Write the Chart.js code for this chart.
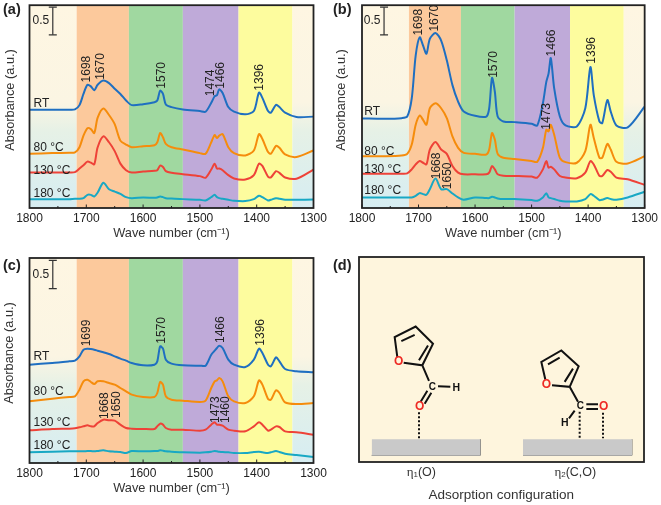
<!DOCTYPE html>
<html>
<head>
<meta charset="utf-8">
<style>
  html, body { margin: 0; padding: 0; background: #fff; }
  canvas { position: absolute; }
</style>
<script src="https://cdn.jsdelivr.net/npm/chart.js@4/dist/chart.umd.min.js"></script>
</head>
<body>
<canvas id="panelA" width="330" height="250" style="left:0;top:0"></canvas>
<canvas id="panelB" width="331" height="250" style="left:330px;top:0"></canvas>
<canvas id="panelC" width="330" height="255" style="left:0;top:250px"></canvas>
<canvas id="panelD" width="331" height="255" style="left:330px;top:250px"></canvas>
<script>
'use strict';

// wave numbers shared by every spectrum
const waves = [1800,1760,1730,1720,1712,1705,1698,1692,1686,1680,1670,1660,1650,1640,1630,1620,1600,1580,1575,1570,1565,1560,1550,1530,1500,1490,1480,1474,1470,1466,1460,1450,1440,1420,1405,1396,1390,1380,1375,1366,1360,1350,1330,1300];
const xTicks = [1800,1700,1600,1500,1400,1300];

// shaded regions
const bandEdges = [1800,1717,1625,1530,1432,1337,1300];
const bandColors = [null,'#fcc99c','#a0d8a0','#bfaad9','#fdfc9e',null];

const seriesNames = ['RT','80 °C','130 °C','180 °C'];
const seriesColors = ['#1f6fc1','#f58c0c','#ee4238','#18a8c4'];

// absorbance readings, 168 units = 1 a.u.
const aRT = [299,299,299,300,313,347,375,370,358,375,388,380,363,347,327,313,316,322,327,357,347,315,307,300,295,293,320,340,343,361,350,307,293,285,295,351,335,295,290,314,307,290,277,278];
const a80 = [165,167,168,169,185,220,243,240,228,275,303,283,255,205,193,185,188,191,200,228,215,195,185,178,167,165,200,222,213,220,225,185,167,160,175,225,210,170,165,189,183,163,155,175];
const a130 = [108,108,108,109,120,130,141,138,133,185,218,200,173,135,115,108,111,113,115,129,125,112,107,103,97,92,117,135,120,120,115,100,90,87,100,135,128,95,93,112,107,93,89,117];
const a180 = [27,27,27,28,28,30,40,40,35,47,77,57,50,43,33,30,32,31,32,35,33,30,29,27,25,23,33,40,33,30,28,25,22,21,27,37,33,23,25,30,28,25,25,26];

const bRT = [271,270,272,277,332,462,517,492,467,512,530,507,447,372,322,292,279,277,302,394,352,277,262,260,255,250,317,382,407,454,362,277,250,247,302,427,342,262,257,327,292,250,244,307];
const b80 = [157,157,159,164,192,252,280,267,252,302,317,302,272,217,182,167,164,162,177,227,207,164,152,148,142,140,182,237,232,252,222,152,139,137,172,252,212,152,152,194,177,140,135,157];
const b130 = [104,104,104,105,117,132,142,137,132,177,200,177,164,127,107,102,102,102,107,127,117,102,98,97,95,92,117,142,122,125,117,97,92,90,107,142,132,97,97,115,110,92,87,70];
const b180 = [32,32,32,32,32,37,45,42,40,57,89,57,57,44,32,25,32,30,30,34,32,29,27,27,24,22,32,45,32,30,27,22,20,20,27,42,37,24,25,30,27,25,32,49];

const cRT = [295,300,305,307,320,340,343,342,340,337,332,327,320,313,307,300,293,295,305,350,343,310,298,293,292,292,325,337,345,352,345,310,295,288,310,343,330,295,290,317,305,282,275,272];
const c80 = [185,193,198,200,220,245,250,243,237,245,245,240,235,225,215,205,198,198,210,243,235,200,190,187,183,187,225,245,248,255,245,200,185,180,200,248,235,192,190,218,210,182,177,180];
const c130 = [98,102,103,104,107,110,113,110,110,120,130,128,127,115,105,103,102,102,110,118,115,105,100,100,97,100,115,122,115,115,112,100,97,95,110,122,115,97,100,110,108,95,92,85];
const c180 = [32,34,35,35,35,35,36,36,35,36,38,35,34,33,30,36,35,36,36,38,37,35,34,32,31,32,34,36,35,34,33,32,30,30,33,34,32,30,32,36,33,28,24,18];

// peak labels: text, wave number, height the label starts from
const aPeakText = ['1698','1670','1570','1474','1466','1396'];
const aPeakWave = [1700,1674,1568,1481,1463,1395];
const aPeakY = [382,390,363,340,363,357];
const bPeakText = ['1698','1670','1570','1466','1396','1473','1668','1650'];
const bPeakWave = [1699,1672,1567,1465,1393,1473,1668,1649];
const bPeakY = [522,534,394,459,437,237,87,57];
const cPeakText = ['1699','1570','1466','1396','1668','1650','1473','1460'];
const cPeakWave = [1700,1568,1464,1393,1668,1646,1473,1454];
const cPeakY = [350,358,360,352,132,135,120,120];

// series name labels: height of each
const aNameY = [318,185,113,45];
const bNameY = [292,172,115,52];
const cNameY = [318,215,120,52];

const bodyFont = '12px "Liberation Sans", Arial, sans-serif';
const titleFont = '12.8px "Liberation Sans", Arial, sans-serif';

function drawText(ctx, text, x, y, font, color, align) {
    ctx.font = font;
    ctx.fillStyle = color || '#222';
    ctx.textAlign = align || 'left';
    ctx.textBaseline = 'middle';
    ctx.fillText(text, x, y);
}

function spectrumPanel(id, cfg) {
    const decor = {
        id: 'decor',
        beforeDatasetsDraw(chart) {
            const ctx = chart.ctx, a = chart.chartArea, xs = chart.scales.x;
            const sideFill = ctx.createLinearGradient(0, a.top, 0, a.bottom);
            sideFill.addColorStop(0, '#fef6e2');
            sideFill.addColorStop(0.48, '#fbf5e3');
            sideFill.addColorStop(0.62, '#e6f1e6');
            sideFill.addColorStop(1, '#d6edf2');
            for (let i = 0; i < bandColors.length; i++) {
                const x0 = xs.getPixelForValue(bandEdges[i]);
                const x1 = xs.getPixelForValue(bandEdges[i + 1]);
                ctx.fillStyle = bandColors[i] || sideFill;
                ctx.fillRect(x0, a.top, x1 - x0, a.height);
            }
        },
        afterDatasetsDraw(chart) {
            const ctx = chart.ctx, a = chart.chartArea, xs = chart.scales.x, ys = chart.scales.y;
            ctx.save();
            ctx.strokeStyle = '#222';
            ctx.lineWidth = 1;
            for (let w = 1300; w <= 1800; w += 50) {
                const px = xs.getPixelForValue(w);
                ctx.beginPath();
                ctx.moveTo(px, a.bottom);
                ctx.lineTo(px, a.bottom - (w % 100 === 0 ? 3.5 : 2));
                ctx.stroke();
            }
            ctx.lineWidth = 1.8;
            ctx.strokeRect(a.left, a.top, a.width, a.height);
            // rotated peak positions
            cfg.peakText.forEach(function (t, i) {
                ctx.save();
                ctx.translate(xs.getPixelForValue(cfg.peakWave[i]), ys.getPixelForValue(cfg.peakY[i]));
                ctx.rotate(-Math.PI / 2);
                drawText(ctx, t, 0, 0, bodyFont, '#222', 'left');
                ctx.restore();
            });
            seriesNames.forEach(function (t, i) {
                drawText(ctx, t, xs.getPixelForValue(cfg.nameWave), ys.getPixelForValue(cfg.nameY[i]), bodyFont);
            });
            drawText(ctx, '0.5', xs.getPixelForValue(cfg.barWave + 21), ys.getPixelForValue((cfg.bar[0] + cfg.bar[1]) / 2), bodyFont, '#222', 'center');
            // y title sits a little above the middle of the frame
            ctx.save();
            ctx.translate(cfg.titleX, cfg.titleY);
            ctx.rotate(-Math.PI / 2);
            drawText(ctx, 'Absorbance (a.u.)', 0, 0, titleFont, '#333', 'center');
            ctx.restore();
            drawText(ctx, cfg.letter, 3, cfg.letterY, 'bold 14.5px "Liberation Sans", Arial, sans-serif');
            ctx.restore();
        }
    };

    const datasets = cfg.series.map(function (vals, i) {
        return {
            label: seriesNames[i],
            data: vals.map(function (v, j) { return { x: waves[j], y: v }; }),
            borderColor: seriesColors[i],
            borderWidth: 2,
            pointRadius: 0,
            tension: 0.28
        };
    });
    // 0.5 a.u. scale bar
    datasets.push({
        label: '0.5',
        data: cfg.bar.map(function (v) { return { x: cfg.barWave, y: v }; }),
        borderColor: '#333',
        borderWidth: 1.2,
        pointStyle: 'line',
        pointRadius: 4,
        pointBorderColor: '#333',
        pointBorderWidth: 1.2
    });

    new Chart(document.getElementById(id), {
        type: 'line',
        data: { datasets: datasets },
        plugins: [decor],
        options: {
            responsive: false,
            animation: false,
            layout: { padding: { top: cfg.top, right: cfg.right, left: 0, bottom: 0 } },
            plugins: { legend: { display: false }, tooltip: { enabled: false } },
            scales: {
                x: {
                    type: 'linear',
                    reverse: true,
                    min: 1300,
                    max: 1800,
                    grid: { display: false, drawTicks: false },
                    border: { display: false },
                    afterFit(s) { s.height = cfg.axisHeight; },
                    ticks: {
                        stepSize: 100,
                        padding: 3,
                        maxRotation: 0,
                        color: '#222',
                        font: { family: '"Liberation Sans", Arial, sans-serif', size: 12 },
                        callback(v) { return xTicks.includes(v) ? String(v) : ''; }
                    },
                    title: {
                        display: true,
                        text: 'Wave number (cm⁻¹)',
                        color: '#333',
                        padding: { top: 0, bottom: 9 },
                        font: { family: '"Liberation Sans", Arial, sans-serif', size: 12.8 }
                    }
                },
                y: {
                    min: 0,
                    max: cfg.yMax,
                    grid: { display: false, drawTicks: false },
                    border: { display: false },
                    ticks: { display: false },
                    afterFit(s) { s.width = cfg.left; }
                }
            }
        }
    });
}

spectrumPanel('panelA', {
    series: [aRT, a80, a130, a180], peakText: aPeakText, peakWave: aPeakWave, peakY: aPeakY,
    nameY: aNameY, nameWave: 1793, barWave: 1759, bar: [527, 611], letter: '(a)', letterY: 10,
    left: 29.5, right: 16.5, top: 3, axisHeight: 42, yMax: 617, titleX: 10, titleY: 100
});
spectrumPanel('panelB', {
    series: [bRT, b80, b130, b180], peakText: bPeakText, peakWave: bPeakWave, peakY: bPeakY,
    nameY: bNameY, nameWave: 1796, barWave: 1761, bar: [524, 608], letter: '(b)', letterY: 10,
    left: 32, right: 16, top: 3, axisHeight: 42, yMax: 614, titleX: 11, titleY: 100
});
spectrumPanel('panelC', {
    series: [cRT, c80, c130, c180], peakText: cPeakText, peakWave: cPeakWave, peakY: cPeakY,
    nameY: cNameY, nameWave: 1793, barWave: 1759, bar: [523, 608], letter: '(c)', letterY: 16,
    left: 29.5, right: 16.5, top: 8, axisHeight: 42, yMax: 615, titleX: 9, titleY: 103
});

// panel (d): adsorption sketch, read on a 855 x 619 frame, null breaks a stroke
const bondX = [115,107,170,222,190,134,null,127,167,null,207,180,null,190,210,null,237,274,null,185,205,null,197,217,null,
    559,547,607,659,632,579,null,567,602,null,642,617,null,632,657,null,647,630,null,682,717,null,682,717];
const bondY = [317,377,409,357,292,300,null,365,384,null,352,307,null,292,245,null,229,227,null,182,215,null,176,209,null,
    249,302,337,289,227,232,null,295,315,null,282,242,null,227,182,null,155,132,null,174,174,null,160,160];
const dashX = [180,180,null,662,662,null,732,732];
const dashY = [150,72,null,152,72,null,149,72];
const plateX = [[38,364],[492,819]];
const plateTop = 69;
const plateBottom = 20;
const atomText = ['O','O','C','H','O','O','C','H'];
const atomX = [119,182,220,292,562,734,664,617];
const atomY = [302,167,227,222,234,167,167,117];
const atomColors = ['#ee2a24','#ee2a24','#111','#111','#ee2a24','#ee2a24','#111','#111'];
const atomFonts = [12,12,10,10.5,12,12,10,10.5];

const sketchDecor = {
    id: 'sketchDecor',
    beforeDatasetsDraw(chart) {
        const a = chart.chartArea;
        chart.ctx.fillStyle = '#fef5dd';
        chart.ctx.fillRect(a.left, a.top, a.width, a.height);
    },
    afterDatasetsDraw(chart) {
        const ctx = chart.ctx, a = chart.chartArea, xs = chart.scales.x, ys = chart.scales.y;
        ctx.save();
        ctx.strokeStyle = '#222';
        ctx.lineWidth = 1.8;
        ctx.strokeRect(a.left, a.top, a.width, a.height);
        atomText.forEach(function (t, i) {
            const px = xs.getPixelForValue(atomX[i]), py = ys.getPixelForValue(atomY[i]);
            ctx.fillStyle = '#fef5dd';
            ctx.beginPath();
            ctx.arc(px, py, 4.5, 0, Math.PI * 2);
            ctx.fill();
            drawText(ctx, t, px, py, 'bold ' + atomFonts[i] + 'px "Liberation Sans", Arial, sans-serif', atomColors[i], 'center');
        });
        drawEta(ctx, xs.getPixelForValue(187), ys.getPixelForValue(-31), '1', '(O)');
        drawEta(ctx, xs.getPixelForValue(649), ys.getPixelForValue(-31), '2', '(C,O)');
        drawText(ctx, 'Adsorption configuration', xs.getPixelForValue(427), ys.getPixelForValue(-100), '13.5px "Liberation Sans", Arial, sans-serif', '#333', 'center');
        drawText(ctx, '(d)', 3, 16, 'bold 14.5px "Liberation Sans", Arial, sans-serif');
        ctx.restore();
    }
};

function drawEta(ctx, cx, cy, sub, rest) {
    const font = '13px "Liberation Serif", serif';
    const small = '8px "Liberation Sans", Arial, sans-serif';
    const mainFont = '12.5px "Liberation Sans", Arial, sans-serif';
    ctx.font = font;
    const w0 = ctx.measureText('η').width;
    ctx.font = small;
    const w1 = ctx.measureText(sub).width;
    ctx.font = mainFont;
    const w2 = ctx.measureText(rest).width;
    let x = cx - (w0 + w1 + w2) / 2;
    drawText(ctx, 'η', x, cy, font, '#333');
    x += w0;
    drawText(ctx, sub, x, cy + 3, small, '#333');
    x += w1;
    drawText(ctx, rest, x, cy, mainFont, '#333');
}

function points(xs, ys) {
    return xs.map(function (x, i) { return x === null ? { x: NaN, y: NaN } : { x: x, y: ys[i] }; });
}

const plateSets = [];
plateX.forEach(function (p) {
    plateSets.push({
        label: 'plate',
        data: p.map(function (x) { return { x: x, y: plateTop }; }),
        borderColor: '#c9c9c9',
        borderWidth: 0,
        backgroundColor: '#c9c9c9',
        fill: { value: plateBottom },
        pointRadius: 0
    });
    plateSets.push({
        label: 'plate edge',
        data: [{ x: p[0], y: plateBottom }, { x: p[1], y: plateBottom }, { x: p[1], y: plateTop }],
        borderColor: '#777',
        borderWidth: 1,
        pointRadius: 0
    });
});

new Chart(document.getElementById('panelD'), {
    type: 'line',
    data: {
        datasets: plateSets.concat([
            { label: 'dative', data: points(dashX, dashY), borderColor: '#111', borderWidth: 2, borderDash: [2, 2], pointRadius: 0, spanGaps: false },
            { label: 'bonds', data: points(bondX, bondY), borderColor: '#111', borderWidth: 2, pointRadius: 0, spanGaps: false }
        ])
    },
    plugins: [sketchDecor],
    options: {
        responsive: false,
        animation: false,
        layout: { padding: { left: 29, right: 17, top: 7, bottom: 43 } },
        plugins: { legend: { display: false }, tooltip: { enabled: false } },
        scales: {
            x: { type: 'linear', min: 0, max: 855, display: false },
            y: { min: 0, max: 619, display: false }
        }
    }
});
</script>
</body>
</html>
